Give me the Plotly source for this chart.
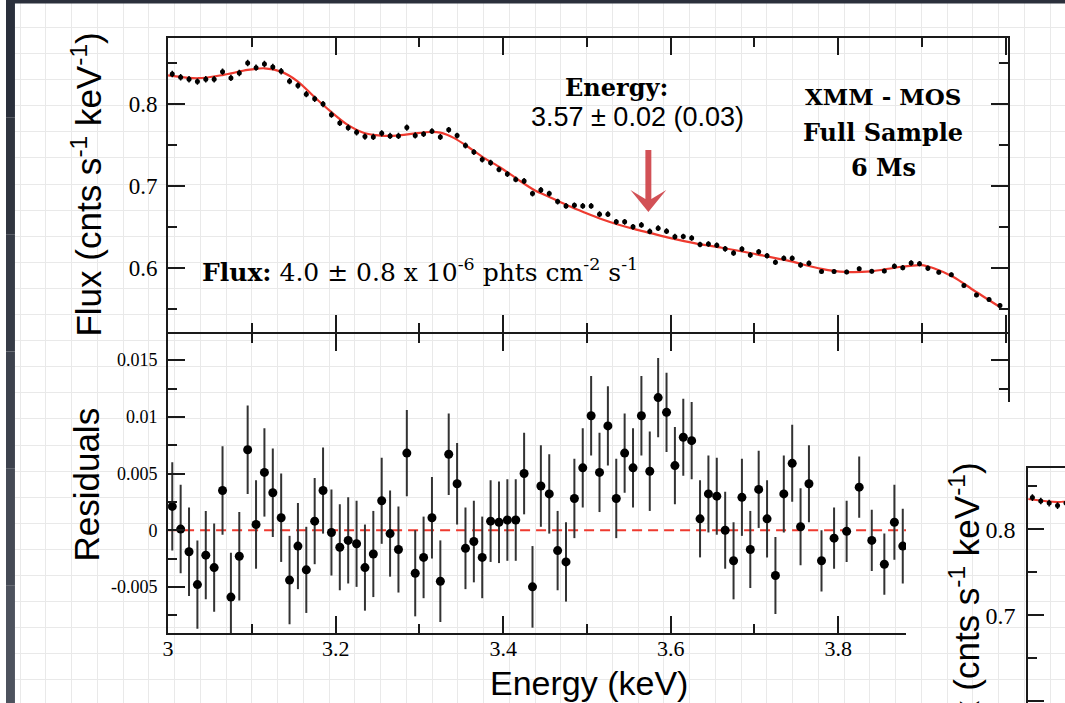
import plotly.graph_objects as go

W, H = 1065, 703

# ---------------- data ----------------
energy = [
    3.005, 3.015, 3.025, 3.035, 3.045, 3.055, 3.065, 3.075, 3.085, 3.095,
    3.105, 3.115, 3.125, 3.135, 3.145, 3.155, 3.165, 3.175, 3.185, 3.195,
    3.205, 3.215, 3.225, 3.235, 3.245, 3.255, 3.265, 3.275, 3.285, 3.295,
    3.305, 3.315, 3.325, 3.335, 3.345, 3.355, 3.365, 3.375, 3.385, 3.395,
    3.405, 3.415, 3.425, 3.435, 3.445, 3.455, 3.465, 3.475, 3.485, 3.495,
    3.505, 3.515, 3.525, 3.535, 3.545, 3.555, 3.565, 3.575, 3.585, 3.595,
    3.605, 3.615, 3.625, 3.635, 3.645, 3.655, 3.665, 3.675, 3.685, 3.695,
    3.705, 3.715, 3.725, 3.735, 3.745, 3.755, 3.765,
    3.780, 3.795, 3.810, 3.825, 3.840, 3.855, 3.867, 3.877, 3.887, 3.897,
    3.907, 3.920, 3.935, 3.950, 3.965, 3.980, 3.993,
]
flux = [
    0.8367, 0.8327, 0.8303, 0.8274, 0.8303, 0.8303, 0.8395, 0.8319, 0.8379, 0.8501,
    0.8444, 0.8489, 0.8452, 0.8400, 0.8279, 0.8226, 0.8121, 0.8064, 0.8000, 0.7870,
    0.7770, 0.7713, 0.7656, 0.7604, 0.7600, 0.7644, 0.7612, 0.7612, 0.7714, 0.7618,
    0.7634, 0.7670, 0.7598, 0.7686, 0.7616, 0.7495, 0.7415, 0.7325, 0.7285, 0.7204,
    0.7147, 0.7082, 0.7062, 0.6909, 0.6953, 0.6909, 0.6812, 0.6759, 0.6767, 0.6759,
    0.6759, 0.6658, 0.6658, 0.6565, 0.6565, 0.6504, 0.6527, 0.6448, 0.6488, 0.6452,
    0.6385, 0.6386, 0.6368, 0.6290, 0.6295, 0.6280, 0.6236, 0.6185, 0.6234, 0.6160,
    0.6201, 0.6153, 0.6073, 0.6121, 0.6121, 0.6040, 0.6060,
    0.5959, 0.5959, 0.5955, 0.5995, 0.5964, 0.5967, 0.6024, 0.6007, 0.6064, 0.6056,
    0.6000, 0.5952, 0.5922, 0.5789, 0.5673, 0.5620, 0.5547,
]
flux_err = [
    0.0039, 0.0039, 0.0039, 0.0039, 0.0039, 0.0039, 0.0039, 0.0039, 0.0039, 0.0039,
    0.0039, 0.0039, 0.0039, 0.0039, 0.0039, 0.0038, 0.0038, 0.0038, 0.0038, 0.0038,
    0.0038, 0.0038, 0.0038, 0.0038, 0.0038, 0.0038, 0.0038, 0.0038, 0.0038, 0.0038,
    0.0036, 0.0036, 0.0036, 0.0036, 0.0036, 0.0036, 0.0036, 0.0036, 0.0036, 0.0036,
    0.0036, 0.0036, 0.0036, 0.0036, 0.0036, 0.0035, 0.0035, 0.0035, 0.0035, 0.0035,
    0.0035, 0.0035, 0.0035, 0.0035, 0.0035, 0.0035, 0.0035, 0.0035, 0.0035, 0.0035,
    0.0034, 0.0034, 0.0034, 0.0034, 0.0034, 0.0034, 0.0034, 0.0034, 0.0034, 0.0034,
    0.0034, 0.0034, 0.0034, 0.0034, 0.0034, 0.0034, 0.0034,
    0.0027, 0.0027, 0.0027, 0.0027, 0.0027, 0.0027, 0.0033, 0.0033, 0.0033, 0.0033,
    0.0033, 0.0027, 0.0027, 0.0027, 0.0027, 0.0027, 0.0027,
]
residuals = [
    0.0021, 0.0001, -0.0019, -0.0048, -0.0022, -0.0033, 0.0035, -0.0059, -0.0023, 0.0071,
    0.0005, 0.0051, 0.0033, 0.0011, -0.0044, -0.0014, -0.0035, 0.0008, 0.0035, -0.0002,
    -0.0015, -0.0009, -0.0012, -0.0033, -0.0021, 0.0026, -0.0003, -0.0017, 0.0068, -0.0038,
    -0.0024, 0.0011, -0.0045, 0.0067, 0.0041, -0.0016, -0.0010, -0.0024, 0.0008, 0.0007,
    0.0009, 0.0009, 0.0050, -0.0050, 0.0039, 0.0032, -0.0018, -0.0028, 0.0028, 0.0055,
    0.0101, 0.0051, 0.0092, 0.0028, 0.0068, 0.0055, 0.0101, 0.0052, 0.0117, 0.0104,
    0.0057, 0.0082, 0.0079, 0.0010, 0.0032, 0.0030, 0.0000, -0.0027, 0.0029, -0.0017,
    0.0036, 0.0010, -0.0040, 0.0032, 0.0059, 0.0003, 0.0041,
    -0.0027, -0.0007, -0.0001, 0.0038, -0.0009, -0.0030, 0.0007, -0.0014,
]
res_energy = energy[:len(residuals)]
res_err = flux_err[:len(residuals)]

model_energy = [
    3.000, 3.036, 3.066, 3.095, 3.115, 3.135, 3.155, 3.174, 3.194, 3.214,
    3.234, 3.254, 3.273, 3.293, 3.313, 3.325, 3.341, 3.357, 3.377, 3.397,
    3.417, 3.437, 3.457, 3.477, 3.497, 3.517, 3.537, 3.557, 3.576, 3.596,
    3.616, 3.638, 3.661, 3.701, 3.740, 3.780, 3.808, 3.839, 3.871, 3.899,
    3.914, 3.938, 3.962, 3.993,
]
model_flux = [
    0.8350, 0.8315, 0.8355, 0.8416, 0.8436, 0.8395, 0.8274, 0.8092, 0.7910, 0.7749,
    0.7648, 0.7616, 0.7616, 0.7640, 0.7660, 0.7652, 0.7588, 0.7486, 0.7345, 0.7224,
    0.7085, 0.6953, 0.6860, 0.6765, 0.6680, 0.6600, 0.6533, 0.6476, 0.6428, 0.6376,
    0.6331, 0.6287, 0.6250, 0.6173, 0.6092, 0.5992, 0.5955, 0.5962, 0.6012, 0.6038,
    0.6000, 0.5891, 0.5729, 0.5527,
]
zero_energy = [3.0, 4.0]
zero_value = [0.0, 0.0]

x_tickvals = [3.0, 3.2, 3.4, 3.6, 3.8]
x_ticktext = ["3", "3.2", "3.4", "3.6", "3.8"]
flux_tickvals = [0.6, 0.7, 0.8]
flux_ticktext = ["0.6", "0.7", "0.8"]
res_tickvals = [-0.005, 0.0, 0.005, 0.01, 0.015]
res_ticktext = ["-0.005", "0", "0.005", "0.01", "0.015"]


# ---------------- helpers ----------------
def fx(px):
    return px / W


def fy(py):
    return (H - py) / H


RED = "#ee3a2f"
INK = "#1a1a1a"
GRID = "#e9e9e9"
SLIDE = "#2b303c"
SLIDE_STEPS = ["#2a2f3b", "#30353f", "#363b46", "#3d424d", "#454a55", "#4d525d"]
SERIF = "Liberation Serif"
SANS = "Liberation Sans"
BOOK = "DejaVu Serif"

fig = go.Figure()

# background subplot (paper texture)
fig.add_trace(go.Scatter(x=[None], y=[None], xaxis="x", yaxis="y", showlegend=False, hoverinfo="skip"))

# top panel
fig.add_trace(go.Scatter(x=model_energy, y=model_flux, mode="lines", xaxis="x2", yaxis="y2",
                         line=dict(color=RED, width=2.2, shape="spline", smoothing=0.8),
                         showlegend=False, hoverinfo="skip"))
fig.add_trace(go.Scatter(x=energy, y=flux, mode="markers", xaxis="x2", yaxis="y2",
                         marker=dict(color="black", size=5),
                         error_y=dict(type="data", array=flux_err, color="black", thickness=1.5, width=0),
                         showlegend=False, hoverinfo="skip"))

# residual panel
fig.add_trace(go.Scatter(x=zero_energy, y=zero_value, mode="lines", xaxis="x3", yaxis="y3",
                         line=dict(color=RED, width=2, dash="10px,6px"),
                         showlegend=False, hoverinfo="skip"))
fig.add_trace(go.Scatter(x=res_energy, y=residuals, mode="markers", xaxis="x3", yaxis="y3",
                         marker=dict(color="black", size=9),
                         error_y=dict(type="data", array=res_err, color="#333333", thickness=2, width=0),
                         showlegend=False, hoverinfo="skip"))

# cover for the overlapping second slide image
fig.add_trace(go.Scatter(x=[None], y=[None], xaxis="x4", yaxis="y4", showlegend=False, hoverinfo="skip"))

# inset chart (partially visible)
fig.add_trace(go.Scatter(x=model_energy, y=model_flux, mode="lines", xaxis="x5", yaxis="y5",
                         line=dict(color=RED, width=2.2, shape="spline", smoothing=0.8),
                         showlegend=False, hoverinfo="skip"))
fig.add_trace(go.Scatter(x=energy, y=flux, mode="markers", xaxis="x5", yaxis="y5",
                         marker=dict(color="black", size=5),
                         error_y=dict(type="data", array=flux_err, color="black", thickness=1.5, width=0),
                         showlegend=False, hoverinfo="skip"))

tickfont_big = dict(family=SERIF, size=23, color="black")
tickfont_small = dict(family=SERIF, size=18, color="black")

common_axis = dict(showline=True, linecolor=INK, linewidth=2, ticks="inside", ticklen=17,
                   tickwidth=1.5, tickcolor=INK, showgrid=False, zeroline=False,
                   mirror="allticks", fixedrange=True)

paper_grid_x = dict(domain=[0, 1], range=[0, W], showgrid=True, gridcolor=GRID, gridwidth=1,
                    tick0=40, dtick=25.9, tickmode="linear", showticklabels=False, ticks="",
                    zeroline=False, showline=False, fixedrange=True)
paper_grid_y = dict(domain=[0, 1], range=[H, 0], showgrid=True, gridcolor=GRID, gridwidth=1,
                    tick0=27.4, dtick=26.1, tickmode="linear", showticklabels=False, ticks="",
                    zeroline=False, showline=False, fixedrange=True)

layout = dict(
    width=W, height=H,
    margin=dict(l=0, r=0, t=0, b=0, pad=0),
    paper_bgcolor="white",
    plot_bgcolor="rgba(0,0,0,0)",
    showlegend=False,
    xaxis=dict(paper_grid_x, anchor="y"),
    yaxis=dict(paper_grid_y, anchor="x"),
    xaxis2=dict(common_axis, domain=[fx(163), fx(1008)], range=[3.0, 4.003], anchor="y2",
                tickmode="array", tickvals=x_tickvals + [4.0], showticklabels=False,
                minor=dict(dtick=0.1, tick0=3.0, ticks="inside", ticklen=9, tickwidth=1.5, tickcolor=INK)),
    yaxis2=dict(common_axis, domain=[fy(332), fy(38)], range=[0.5223, 0.8805], anchor="x2",
                tickmode="array", tickvals=flux_tickvals, ticktext=flux_ticktext,
                tickfont=tickfont_big, ticklabelstandoff=4,
                minor=dict(dtick=0.05, tick0=0.5, ticks="inside", ticklen=9, tickwidth=1.5, tickcolor=INK)),
    xaxis3=dict(common_axis, domain=[fx(163), fx(1008)], range=[3.0, 4.003], anchor="y3",
                tickmode="array", tickvals=x_tickvals, ticktext=x_ticktext,
                tickfont=dict(family=SERIF, size=22, color="black"), ticklabelstandoff=-5,
                minor=dict(dtick=0.1, tick0=3.0, ticks="inside", ticklen=9, tickwidth=1.5, tickcolor=INK)),
    yaxis3=dict(common_axis, domain=[fy(633), fy(334)], range=[-0.00907, 0.01731], anchor="x3",
                tickmode="array", tickvals=res_tickvals, ticktext=res_ticktext,
                tickfont=tickfont_small, ticklabelstandoff=5,
                minor=dict(dtick=0.0025, tick0=0.0, ticks="inside", ticklen=9, tickwidth=1.5, tickcolor=INK)),
    xaxis4=dict(paper_grid_x, domain=[fx(905), 1], range=[905, W], anchor="y4"),
    yaxis4=dict(paper_grid_y, domain=[0, fy(402)], range=[H, 402], anchor="x4"),
    xaxis5=dict(showline=True, linecolor=INK, linewidth=2, ticks="inside", ticklen=17,
                tickwidth=1.5, tickcolor=INK, showgrid=False, zeroline=False, fixedrange=True,
                domain=[fx(1028), 1], range=[3.0, 3.0439], anchor="y5", side="top",
                tickmode="array", tickvals=x_tickvals, showticklabels=False),
    yaxis5=dict(showline=True, linecolor=INK, linewidth=2, ticks="inside", ticklen=16,
                tickwidth=1.5, tickcolor=INK, showgrid=False, zeroline=False, fixedrange=True,
                domain=[0, fy(467.7)], range=[0.598, 0.8714], anchor="x5",
                tickmode="array", tickvals=flux_tickvals, ticktext=flux_ticktext,
                tickfont=dict(family=SERIF, size=24, color="black"), ticklabelstandoff=6,
                minor=dict(dtick=0.05, tick0=0.5, ticks="inside", ticklen=9, tickwidth=1.5, tickcolor=INK)),
)
fig.update_layout(**layout)

# ---------------- shapes ----------------
arrow_pts = [(643, 150), (649, 150), (649, 199), (664, 190), (646, 212), (628, 190), (643, 199)]
arrow_path = "M " + " L ".join(f"{x},{y}" for x, y in arrow_pts) + " Z"

shapes = []
# dark slide background: left strip (stepped gradient) and top strip
seg = H / len(SLIDE_STEPS)
for i, col in enumerate(SLIDE_STEPS):
    shapes.append(dict(type="rect", xref="x", yref="y", x0=-20, x1=9, y0=i * seg - (20 if i == 0 else 0),
                       y1=(i + 1) * seg + (20 if i == len(SLIDE_STEPS) - 1 else 0), layer="above",
                       fillcolor=col, line=dict(width=0)))
shapes += [
    dict(type="rect", xref="x", yref="y", x0=-20, x1=W + 20, y0=-20, y1=3.5, layer="above",
         fillcolor=SLIDE, line=dict(width=0)),
    # second, overlapping slide image (covers the lower right corner)
    dict(type="rect", xref="x4", yref="y4", x0=905, x1=W, y0=402, y1=H, layer="below",
         fillcolor="white", line=dict(width=0)),
    # arrow marking the line energy
    dict(type="path", xref="x", yref="y", path=arrow_path, layer="above",
         fillcolor="rgba(206,66,72,0.92)", line=dict(width=0)),
]
fig.update_layout(shapes=shapes)

# ---------------- text ----------------
def ann(text, px, py, size, family, xanchor="center", yanchor="middle", angle=0, color="black"):
    return dict(text=text, x=fx(px), y=fy(py), xref="paper", yref="paper", showarrow=False,
                xanchor=xanchor, yanchor=yanchor, textangle=angle, borderpad=0,
                font=dict(family=family, size=size, color=color))


annotations = [
    ann("<b>Energy:</b>", 614, 87, 24, BOOK),
    ann("3.57 ± 0.02 (0.03)", 635, 117, 27, SANS),
    ann("<b>XMM - MOS</b>", 882, 97, 23, BOOK),
    ann("<b>Full Sample</b>", 882, 132, 24, BOOK),
    ann("<b>6 Ms</b>", 882, 167, 24, BOOK),
    ann("<b>Flux:</b> 4.0 ± 0.8 x 10<sup>-6</sup> phts cm<sup>-2</sup> s<sup>-1</sup>",
        196, 270, 25, BOOK, xanchor="left"),
    ann("Flux (cnts s<sup>-1</sup> keV<sup>-1</sup>)", 81, 185, 35, SANS, angle=-90),
    ann("Residuals", 81, 485, 35, SANS, angle=-90),
    ann("Energy (keV)", 586, 683, 34, SANS),
    ann("Flux (cnts s<sup>-1</sup> keV<sup>-1</sup>)", 964, 615, 35, SANS, angle=-90),
]
fig.update_layout(annotations=annotations)

fig.write_html("out.html")
